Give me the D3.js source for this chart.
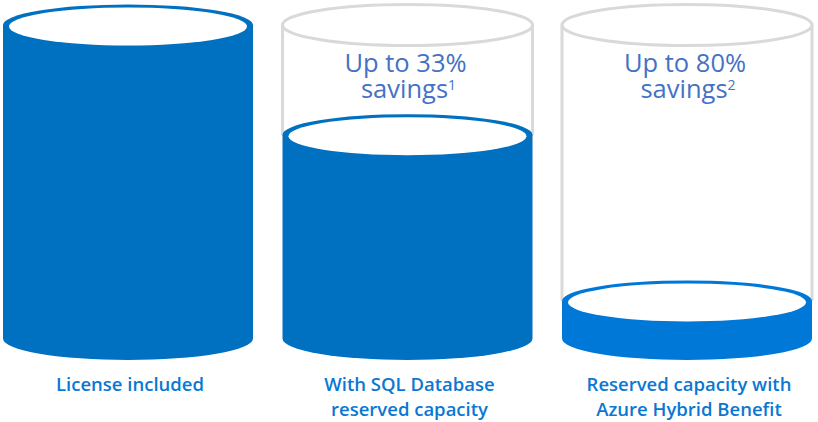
<!DOCTYPE html>
<html>
<head>
<meta charset="utf-8">
<title>Savings cylinders</title>
<script src="https://cdn.jsdelivr.net/npm/d3@7/dist/d3.min.js"></script>
<style>
  body { margin: 0; background: #fff; }
  text { font-family: "Open Sans", "Noto Sans", sans-serif; }
  .label { fill: #0a78d2; font-size: 18.5px; font-weight: 600; }
  .savings { fill: #4472c4; font-size: 25.5px; }
</style>
</head>
<body>
<div id="chart"></div>
<script>
// categories and the share of cost each cylinder is filled to (as drawn)
var categories = ["license", "sqlReserved", "hybrid"];
var labelLines = [["License included"], ["With SQL Database", "reserved capacity"], ["Reserved capacity with", "Azure Hybrid Benefit"]];
var fillLevels = [100, 65, 12];
var savingsText = [null, "Up to 33%", "Up to 80%"];
var footnotes = [null, "1", "2"];
var fillColors = ["#0070c0", "#0070c0", "#0078d7"];

var width = 818, height = 422;
var rx = 125, ryTop = 20.5, ryBottom = 21.5;

var svg = d3.select("#chart").append("svg")
    .attr("width", width)
    .attr("height", height);

var x = d3.scalePoint().domain(categories).range([128, 687]);
var y = d3.scaleLinear().domain([0, 100]).range([338.5, 25]);

categories.forEach(function(c, i) {
  var cx = x(c), top = y(fillLevels[i]), base = y(0);
  var g = svg.append("g");

  // empty outline for the part that was saved
  if (fillLevels[i] < 100) {
    g.append("line").attr("x1", cx - rx).attr("x2", cx - rx)
      .attr("y1", y(100)).attr("y2", top)
      .attr("stroke", "#d9d9d9").attr("stroke-width", 3);
    g.append("line").attr("x1", cx + rx).attr("x2", cx + rx)
      .attr("y1", y(100)).attr("y2", top)
      .attr("stroke", "#d9d9d9").attr("stroke-width", 3);
    g.append("ellipse").attr("cx", cx).attr("cy", y(100))
      .attr("rx", rx).attr("ry", ryTop)
      .attr("fill", "#fff").attr("stroke", "#d9d9d9").attr("stroke-width", 3);
  }

  // filled body
  g.append("path")
    .attr("d", "M" + (cx - rx) + "," + top + "L" + (cx - rx) + "," + base +
      "A" + rx + "," + ryBottom + " 0 0 0 " + (cx + rx) + "," + base +
      "L" + (cx + rx) + "," + top + "Z")
    .attr("fill", fillColors[i]);
  g.append("ellipse").attr("cx", cx).attr("cy", top)
    .attr("rx", rx).attr("ry", ryTop).attr("fill", fillColors[i]);
  g.append("ellipse").attr("cx", cx).attr("cy", top + 1.5)
    .attr("rx", rx - 6).attr("ry", ryTop - 1.5).attr("fill", "#fff");

  // savings note, two lines in one text
  if (savingsText[i]) {
    var t = g.append("text").attr("class", "savings").attr("text-anchor", "middle");
    t.append("tspan").attr("x", cx - 2).attr("y", 72).text(savingsText[i]);
    var l2 = t.append("tspan").attr("x", cx + 1).attr("y", 98);
    l2.append("tspan").text("savings");
    l2.append("tspan").attr("font-size", "14px").attr("dy", -8).text(footnotes[i]);
  }

  // category label
  var lab = g.append("text").attr("class", "label").attr("text-anchor", "middle");
  labelLines[i].forEach(function(line, j) {
    lab.append("tspan").attr("x", cx + 2).attr("y", 391 + j * 25).text(line);
  });
});
</script>
</body>
</html>
